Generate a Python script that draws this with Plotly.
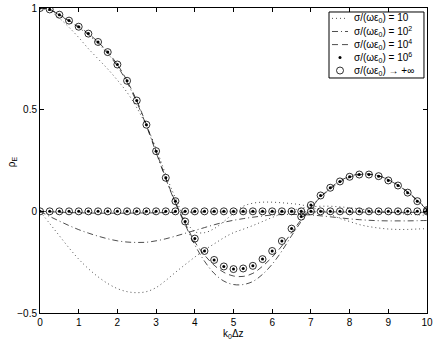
import plotly.graph_objects as go

# k0*dz sample positions (step 0.25)
x = [0.0, 0.25, 0.5, 0.75, 1.0, 1.25, 1.5, 1.75, 2.0, 2.25, 2.5, 2.75, 3.0, 3.25, 3.5, 3.75,
     4.0, 4.25, 4.5, 4.75, 5.0, 5.25, 5.5, 5.75, 6.0, 6.25, 6.5, 6.75, 7.0, 7.25, 7.5, 7.75,
     8.0, 8.25, 8.5, 8.75, 9.0, 9.25, 9.5, 9.75, 10.0]

# sigma/(omega eps0) -> +inf  (also 1e6, identical at plot scale)
re_inf = [1.0, 0.993, 0.967, 0.938, 0.908, 0.874, 0.833, 0.783, 0.722, 0.642, 0.545, 0.426,
          0.296, 0.165, 0.05, -0.05, -0.134, -0.195, -0.239, -0.271, -0.284, -0.281, -0.268,
          -0.235, -0.195, -0.146, -0.085, -0.026, 0.031, 0.078, 0.116, 0.147, 0.17, 0.181,
          0.181, 0.173, 0.152, 0.127, 0.092, 0.05, 0.006]
im_inf = [0.0] * 41

# sigma/(omega eps0) = 1e4
re_1e4 = [1.0, 0.993, 0.967, 0.938, 0.908, 0.874, 0.833, 0.783, 0.722, 0.642, 0.545, 0.426,
          0.296, 0.163, 0.045, -0.058, -0.15, -0.215, -0.265, -0.30, -0.318, -0.32, -0.305,
          -0.27, -0.225, -0.17, -0.105, -0.04, 0.02, 0.07, 0.11, 0.143, 0.167, 0.18, 0.182,
          0.175, 0.156, 0.13, 0.096, 0.055, 0.01]
im_1e4 = [0.0, -0.002, -0.004, -0.006, -0.007, -0.008, -0.009, -0.009, -0.009, -0.009, -0.008,
          -0.008, -0.007, -0.006, -0.005, -0.004, -0.004, -0.003, -0.003, -0.003, -0.003, -0.003,
          -0.003, -0.003, -0.003, -0.003, -0.003, -0.003, -0.003, -0.003, -0.003, -0.003, -0.004,
          -0.004, -0.004, -0.004, -0.005, -0.005, -0.005, -0.005, -0.005]

# sigma/(omega eps0) = 1e2
re_1e2 = [1.0, 0.992, 0.965, 0.935, 0.903, 0.868, 0.826, 0.776, 0.714, 0.634, 0.537, 0.42,
          0.29, 0.16, 0.04, -0.065, -0.165, -0.245, -0.305, -0.343, -0.36, -0.36, -0.345,
          -0.31, -0.26, -0.195, -0.12, -0.05, 0.015, 0.07, 0.115, 0.15, 0.172, 0.183, 0.183,
          0.175, 0.155, 0.128, 0.094, 0.052, 0.008]
im_1e2 = [0.0, -0.025, -0.048, -0.07, -0.09, -0.107, -0.122, -0.135, -0.145, -0.151, -0.153,
          -0.152, -0.145, -0.135, -0.122, -0.108, -0.094, -0.08, -0.066, -0.054, -0.044, -0.036,
          -0.029, -0.023, -0.018, -0.016, -0.015, -0.016, -0.018, -0.022, -0.027, -0.032, -0.037,
          -0.041, -0.044, -0.046, -0.047, -0.047, -0.047, -0.046, -0.045]

# sigma/(omega eps0) = 10
re_10 = [1.0, 0.985, 0.95, 0.905, 0.855, 0.80, 0.75, 0.70, 0.645, 0.585, 0.51, 0.42,
         0.31, 0.18, 0.065, -0.04, -0.10, -0.105, -0.085, -0.05, -0.01, 0.025, 0.04, 0.045,
         0.045, 0.042, 0.038, 0.032, 0.02, 0.005, -0.015, -0.035, -0.05, -0.065, -0.075,
         -0.082, -0.087, -0.089, -0.089, -0.087, -0.085]
im_10 = [0.0, -0.06, -0.12, -0.18, -0.235, -0.282, -0.322, -0.355, -0.38, -0.395, -0.40,
         -0.395, -0.375, -0.34, -0.30, -0.262, -0.225, -0.19, -0.16, -0.13, -0.105, -0.088,
         -0.07, -0.05, -0.03, -0.012, 0.003, 0.015, 0.022, 0.025, 0.025, 0.022, 0.018, 0.012,
         0.006, 0.0, -0.005, -0.01, -0.014, -0.017, -0.02]

x_ticks = [0, 1, 2, 3, 4, 5, 6, 7, 8, 9, 10]
y_ticks = [-0.5, 0, 0.5, 1]
y_tick_text = ["\u22120.5", "0", "0.5", "1"]

FONT = "Liberation Sans, Arial, Helvetica, sans-serif"
DOT = "1px,3px"
DASHDOT = "6px,3px,1px,3px"
DASH = "6px,4px"

label = "\u03c3/(\u03c9\u03b5<sub>0</sub>)"
series = [
    (label + " = 10", re_10, im_10, DOT),
    (label + " = 10<sup>2</sup>", re_1e2, im_1e2, DASHDOT),
    (label + " = 10<sup>4</sup>", re_1e4, im_1e4, DASH),
]

fig = go.Figure()

for name, re_vals, im_vals, dash in series:
    for vals in (re_vals, im_vals):
        fig.add_trace(go.Scatter(
            x=x, y=vals, mode="lines", name=name, showlegend=False,
            line=dict(color="black", width=0.7, dash=dash, shape="spline"),
        ))

for vals in (re_inf, im_inf):
    fig.add_trace(go.Scatter(
        x=x, y=vals, mode="markers", showlegend=False,
        marker=dict(symbol="circle", size=3, color="black"),
    ))
    fig.add_trace(go.Scatter(
        x=x, y=vals, mode="markers", showlegend=False,
        marker=dict(symbol="circle-open", size=7, color="black", line=dict(width=0.8)),
    ))

# hand-built legend (matlab-style compact box), drawn on an overlay axis in [0, 1]
leg_y = [0.966, 0.923, 0.880, 0.838, 0.795]
leg_text = [s[0] for s in series] + [label + " = 10<sup>6</sup>", label + " \u2192 +\u221e"]
key_x0, key_x1, key_xm, text_x = 0.7545, 0.7959, 0.7752, 0.8062

fig.add_shape(type="rect", xref="paper", yref="paper", x0=0.7468, x1=0.9922, y0=0.7705,
              y1=0.9869, line=dict(color="black", width=1), fillcolor="white", layer="below")
for (name, _, _, dash), yy in zip(series, leg_y):
    fig.add_trace(go.Scatter(
        x=[key_x0, key_x1], y=[yy, yy], xaxis="x2", yaxis="y2", mode="lines",
        showlegend=False, hoverinfo="skip",
        line=dict(color="black", width=0.7, dash=dash),
    ))
fig.add_trace(go.Scatter(
    x=[key_xm], y=[leg_y[3]], xaxis="x2", yaxis="y2", mode="markers", showlegend=False,
    hoverinfo="skip", marker=dict(symbol="circle", size=3, color="black"),
))
fig.add_trace(go.Scatter(
    x=[key_xm], y=[leg_y[4]], xaxis="x2", yaxis="y2", mode="markers", showlegend=False,
    hoverinfo="skip",
    marker=dict(symbol="circle-open", size=7, color="black", line=dict(width=0.8)),
))
for txt, yy in zip(leg_text, leg_y):
    fig.add_annotation(x=text_x, y=yy, xref="paper", yref="paper", text=txt,
                       showarrow=False, xanchor="left", yanchor="middle",
                       font=dict(size=10, family=FONT, color="black"))

# axis titles
fig.add_annotation(x=0.5, y=-0.068, xref="paper", yref="paper",
                   text="k<sub>0</sub>\u0394z", showarrow=False,
                   xanchor="center", yanchor="middle", font=dict(size=10, family=FONT))
fig.add_annotation(x=-0.072, y=0.495, xref="paper", yref="paper",
                   text="\u03c1<sub>E</sub>", showarrow=False, textangle=-90,
                   xanchor="center", yanchor="middle", font=dict(size=10, family=FONT))

axis_common = dict(
    showgrid=False, zeroline=False, showline=True, linecolor="black", linewidth=1,
    mirror="ticks", ticks="inside", ticklen=4, tickcolor="black", automargin=False,
    tickfont=dict(size=10, color="black", family=FONT),
)

fig.update_layout(
    width=436, height=339,
    margin=dict(l=40, r=9, t=8, b=26),
    paper_bgcolor="white", plot_bgcolor="white",
    font=dict(family=FONT, size=10, color="black"),
    xaxis=dict(range=[0, 10], tickvals=x_ticks, ticklabelstandoff=0, **axis_common),
    yaxis=dict(range=[-0.5, 1], tickvals=y_ticks, ticktext=y_tick_text, **axis_common),
    xaxis2=dict(range=[0, 1], overlaying="x", visible=False, fixedrange=True),
    yaxis2=dict(range=[0, 1], overlaying="y", visible=False, fixedrange=True),
    showlegend=False,
)

# page body has a default 8px margin; drop it so the figure sits at the window corner
fig.write_html("out.html", config={"displayModeBar": False},
               post_script="document.body.style.margin='0px';")
